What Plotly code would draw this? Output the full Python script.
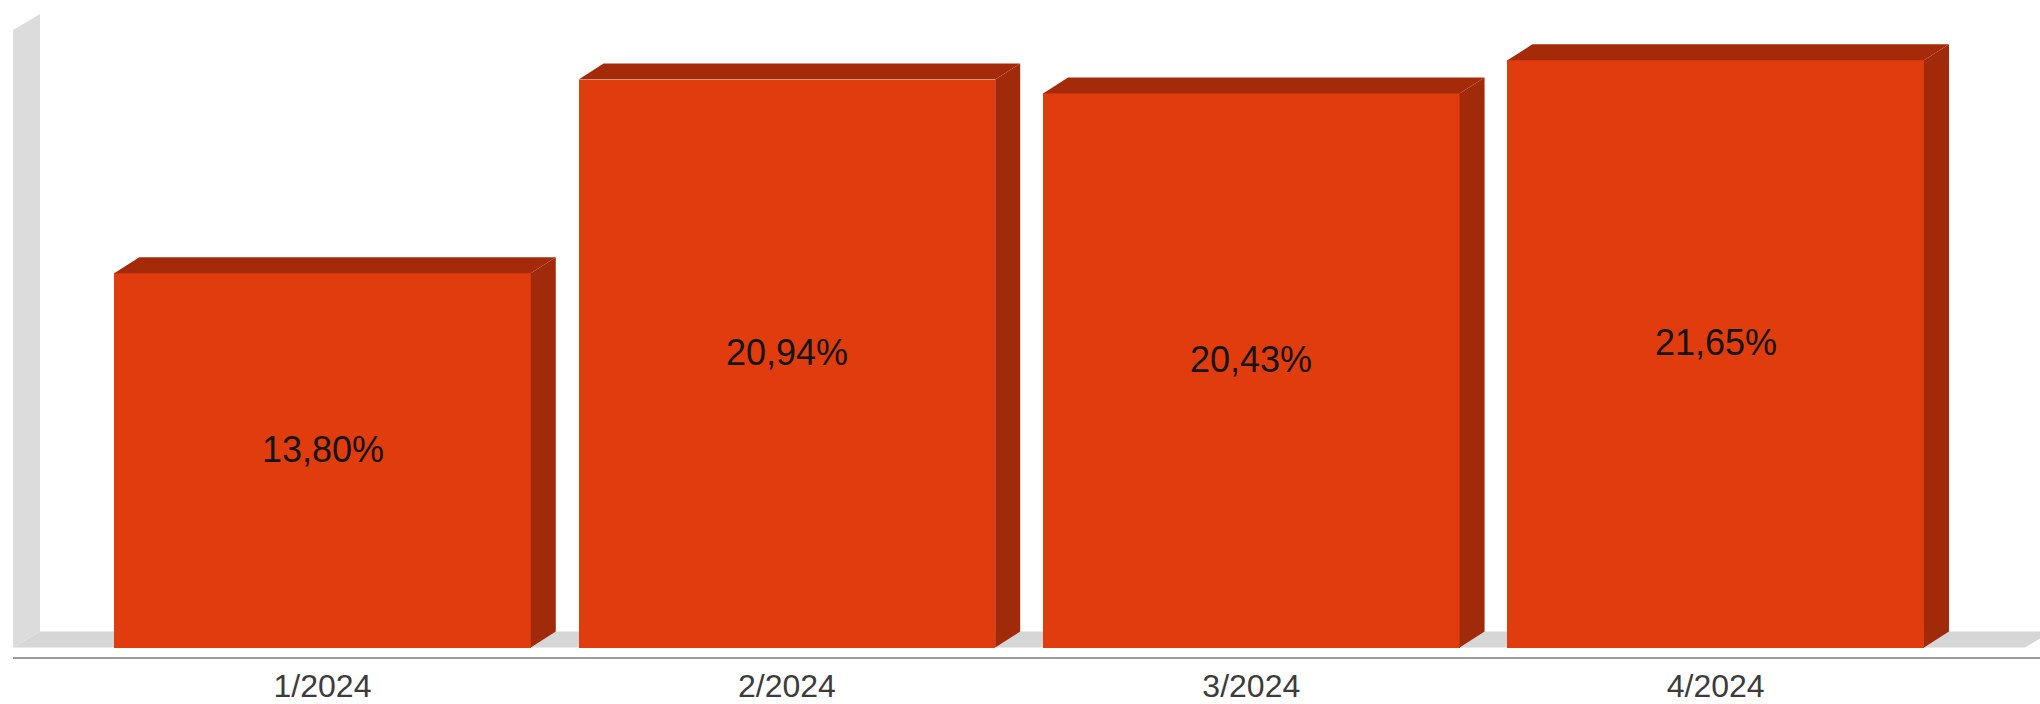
import plotly.graph_objects as go

# ---- data -------------------------------------------------------------
categories = ["1/2024", "2/2024", "3/2024", "4/2024"]
values = [13.80, 20.94, 20.43, 21.65]
value_labels = ["13,80%", "20,94%", "20,43%", "21,65%"]

# ---- geometry / styling ------------------------------------------------
W, H = 2040, 704
M_L, M_R, M_T, M_B = 13, 0, 0, 47
CAT_PX = 464.4          # pixel distance between category centres
FIRST_CENTER_PX = 322.5  # pixel x of the first category centre
ZERO_PX = 647.5          # pixel y of the value 0 (front floor edge)
UNIT_PX = 27.12          # pixels per percentage point
BAR_W = 0.897            # bar width, in category units

BAR_DX_PX, BAR_DY_PX = 25, 16     # 3D depth of the bars
FRAME_DX_PX, FRAME_DY_PX = 27, 16  # 3D depth of wall and floor
FLOOR_RIGHT_PX = 2025
WALL_TOP = 22.77

FRONT = "#E03C0E"
TOP = "#A52A0A"
SIDE = "#A12A0B"
WALL = "#DCDCDC"
FLOOR = "#D6D6D6"
AXIS_LINE = "#9C9C9C"
FONT = "Liberation Sans, Arial, sans-serif"

# axis ranges derived from the pixel layout
x_lo = (M_L - FIRST_CENTER_PX) / CAT_PX
x_hi = (W - M_R - FIRST_CENTER_PX) / CAT_PX
y_lo = -((H - M_B) - ZERO_PX) / UNIT_PX
y_hi = (ZERO_PX - M_T) / UNIT_PX

bdx, bdy = BAR_DX_PX / CAT_PX, BAR_DY_PX / UNIT_PX
fdx, fdy = FRAME_DX_PX / CAT_PX, FRAME_DY_PX / UNIT_PX
floor_right = (FLOOR_RIGHT_PX - FIRST_CENTER_PX) / CAT_PX


def path(points):
    return "M " + " L ".join(f"{x},{y}" for x, y in points) + " Z"


def face(xs, ys, color):
    return go.Scatter(
        x=xs + [xs[0]], y=ys + [ys[0]], mode="lines", fill="toself",
        fillcolor=color, line=dict(width=0, color=color),
        hoverinfo="skip", showlegend=False,
    )


fig = go.Figure()
xpos = list(range(len(categories)))

# front faces of the bars
fig.add_trace(go.Bar(
    x=xpos, y=values, width=BAR_W,
    marker=dict(color=FRONT, line=dict(width=0)),
    hoverinfo="skip", showlegend=False,
))

# top and right-hand faces of each bar
for i, v in zip(xpos, values):
    xl, xr = i - BAR_W / 2, i + BAR_W / 2
    fig.add_trace(face([xr, xr + bdx, xr + bdx, xr], [0, bdy, v + bdy, v], SIDE))
    fig.add_trace(face([xl, xr, xr + bdx, xl + bdx], [v, v, v + bdy, v + bdy], TOP))

# floor and left wall behind the bars
shapes = [
    dict(type="path", xref="x", yref="y", layer="below",
         path=path([(x_lo, 0), (floor_right, 0), (floor_right + fdx, fdy), (x_lo + fdx, fdy)]),
         fillcolor=FLOOR, line=dict(width=0)),
    dict(type="path", xref="x", yref="y", layer="below",
         path=path([(x_lo, 0), (x_lo, WALL_TOP), (x_lo + fdx, WALL_TOP + fdy), (x_lo + fdx, fdy)]),
         fillcolor=WALL, line=dict(width=0)),
]

annotations = [
    dict(x=i, y=v / 2, xref="x", yref="y", text=t, showarrow=False, yshift=11,
         font=dict(family=FONT, size=36, color="#141414"))
    for i, v, t in zip(xpos, values, value_labels)
]

fig.update_layout(
    width=W, height=H,
    margin=dict(l=M_L, r=M_R, t=M_T, b=M_B, pad=0),
    paper_bgcolor="white", plot_bgcolor="white",
    shapes=shapes, annotations=annotations,
    bargap=0, showlegend=False,
    xaxis=dict(
        range=[x_lo, x_hi], tickvals=xpos, ticktext=categories,
        showgrid=False, zeroline=False, ticks="",
        showline=True, linecolor=AXIS_LINE, linewidth=2,
        tickfont=dict(family=FONT, size=32, color="#3C3C3C"),
        fixedrange=True,
    ),
    yaxis=dict(range=[y_lo, y_hi], visible=False, showgrid=False,
               zeroline=False, fixedrange=True),
)

fig.write_html("out.html", config={"displayModeBar": False})
